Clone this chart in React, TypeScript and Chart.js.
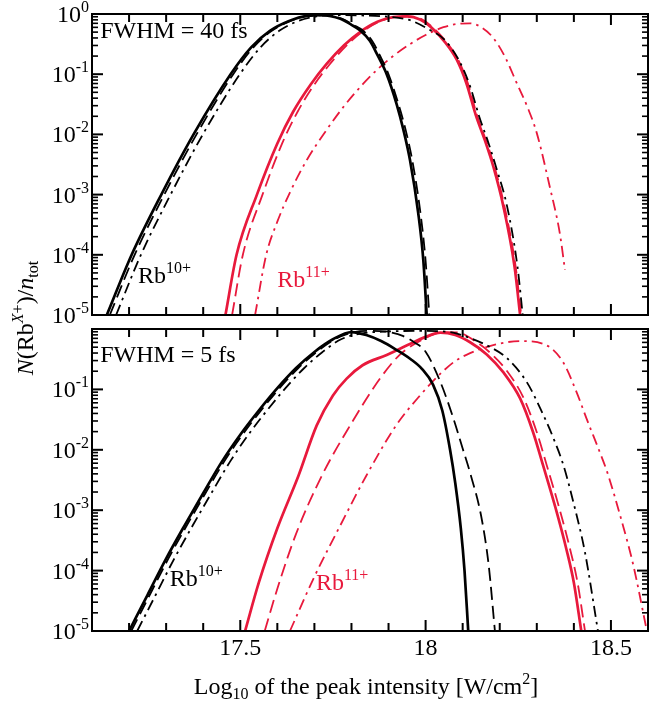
import React, { useEffect, useRef } from 'react';
import { Chart, registerables } from 'chart.js';
Chart.register(...registerables);

// ---------- axis settings ----------
const X_MIN = 17.1;
const X_MAX = 18.6;
const Y_MIN = 1e-5;
const Y_MAX = 1;
const X_TICK_LABELS = [17.5, 18, 18.5];
const X_TICK_STEPS = [17.1, 17.2, 17.3, 17.4, 17.5, 17.6, 17.7, 17.8, 17.9, 18.0, 18.1, 18.2, 18.3, 18.4, 18.5, 18.6];
const Y_DECADES = [1e-5, 1e-4, 1e-3, 1e-2, 1e-1, 1];
const TOP_Y_EXPONENTS = [0, -1, -2, -3, -4, -5];
const BOTTOM_Y_EXPONENTS = [-1, -2, -3, -4, -5];

// ---------- top panel: FWHM = 40 fs ----------
const t40BlackSolidX = [17.14, 17.207, 17.287, 17.374, 17.474, 17.53, 17.58, 17.63, 17.68, 17.72, 17.77, 17.80, 17.823, 17.85, 17.87, 17.895, 17.922, 17.94, 17.958, 17.98, 17.994, 18.003];
const t40BlackSolidY = [1e-5, 1e-4, 1e-3, 1e-2, 0.1, 0.282, 0.525, 0.759, 0.933, 0.955, 0.832, 0.661, 0.537, 0.355, 0.209, 0.1, 0.0316, 0.012, 0.00372, 0.0005, 7.94e-5, 1e-5];

const t40BlackDashX = [17.148, 17.215, 17.295, 17.382, 17.481, 17.536, 17.585, 17.634, 17.684, 17.725, 17.775, 17.805, 17.83, 17.856, 17.876, 17.90, 17.927, 17.946, 17.964, 17.986, 18.0, 18.01];
const t40BlackDashY = [1e-5, 1e-4, 1e-3, 1e-2, 0.1, 0.282, 0.525, 0.759, 0.933, 0.95, 0.832, 0.661, 0.537, 0.355, 0.209, 0.1, 0.0316, 0.012, 0.00372, 0.0005, 7.94e-5, 1e-5];

const t40BlackDashDotX = [17.165, 17.232, 17.312, 17.399, 17.499, 17.555, 17.605, 17.655, 17.705, 17.76, 17.82, 17.90, 17.96, 18.01, 18.05, 18.09, 18.12, 18.145, 18.17, 18.19, 18.22, 18.248, 18.262];
const t40BlackDashDotY = [1e-5, 1e-4, 1e-3, 1e-2, 0.1, 0.282, 0.525, 0.759, 0.91, 0.96, 0.95, 0.9, 0.78, 0.55, 0.38, 0.17, 0.063, 0.0195, 0.00708, 0.00288, 6.31e-4, 6.31e-5, 1e-5];

const t40RedSolidX = [17.46, 17.49, 17.545, 17.60, 17.643, 17.69, 17.733, 17.78, 17.823, 17.87, 17.913, 17.95, 17.985, 18.013, 18.05, 18.084, 18.11, 18.137, 18.16, 18.183, 18.21, 18.24, 18.255];
const t40RedSolidY = [1e-5, 1e-4, 1e-3, 0.00708, 0.024, 0.0676, 0.148, 0.302, 0.501, 0.741, 0.891, 0.912, 0.813, 0.617, 0.355, 0.174, 0.0708, 0.0195, 0.00794, 0.00288, 6.31e-4, 6.31e-5, 1e-5];

const t40RedDashX = [17.478, 17.507, 17.56, 17.613, 17.655, 17.70, 17.742, 17.787, 17.828, 17.874, 17.917, 17.955, 17.99, 18.017, 18.054, 18.088, 18.114, 18.14, 18.163, 18.186, 18.213, 18.243, 18.258];
const t40RedDashY = [1e-5, 1e-4, 1e-3, 0.00708, 0.024, 0.0676, 0.148, 0.302, 0.501, 0.741, 0.891, 0.912, 0.813, 0.617, 0.355, 0.174, 0.0708, 0.0195, 0.00794, 0.00288, 6.31e-4, 6.31e-5, 1e-5];

const t40RedDashDotX = [17.54, 17.57, 17.60, 17.635, 17.68, 17.73, 17.78, 17.83, 17.87, 17.91, 17.958, 18.0, 18.048, 18.093, 18.12, 18.15, 18.183, 18.215, 18.246, 18.275, 18.30, 18.335, 18.362, 18.376];
const t40RedDashDotY = [1e-5, 1e-4, 3.55e-4, 1.12e-3, 3.8e-3, 0.0112, 0.0295, 0.0676, 0.12, 0.195, 0.316, 0.447, 0.603, 0.692, 0.70, 0.603, 0.398, 0.19, 0.0708, 0.0282, 0.0105, 0.00135, 2.29e-4, 5.62e-5];

// ---------- bottom panel: FWHM = 5 fs ----------
const b5BlackSolidX = [17.20, 17.25, 17.30, 17.35, 17.40, 17.45, 17.50, 17.55, 17.60, 17.65, 17.70, 17.75, 17.80, 17.84, 17.88, 17.92, 17.96, 17.99, 18.02, 18.045, 18.066, 18.08, 18.095, 18.105, 18.115];
const b5BlackSolidY = [1e-5, 3.98e-5, 1.58e-4, 5.62e-4, 1.91e-3, 6.31e-3, 0.0178, 0.0447, 0.105, 0.224, 0.417, 0.676, 0.891, 0.794, 0.631, 0.457, 0.316, 0.219, 0.12, 0.0447, 0.01, 0.00282, 5.01e-4, 1e-4, 1e-5];

const b5BlackDashX = [17.206, 17.256, 17.306, 17.356, 17.406, 17.456, 17.506, 17.556, 17.606, 17.656, 17.706, 17.755, 17.80, 17.85, 17.90, 17.94, 17.97, 18.0, 18.04, 18.075, 18.10, 18.12, 18.15, 18.17, 18.187];
const b5BlackDashY = [1e-5, 3.98e-5, 1.58e-4, 5.62e-4, 1.91e-3, 6.31e-3, 0.0178, 0.0447, 0.105, 0.224, 0.417, 0.676, 0.87, 0.93, 0.89, 0.76, 0.6, 0.42, 0.132, 0.0331, 0.0105, 0.00417, 7.94e-4, 1.26e-4, 1e-5];

const b5BlackDashDotX = [17.222, 17.272, 17.322, 17.372, 17.422, 17.472, 17.522, 17.572, 17.622, 17.672, 17.722, 17.772, 17.83, 17.90, 17.98, 18.03, 18.074, 18.12, 18.165, 18.219, 18.273, 18.309, 18.345, 18.372, 18.40, 18.43, 18.465];
const b5BlackDashDotY = [1e-5, 3.98e-5, 1.58e-4, 5.62e-4, 1.91e-3, 6.31e-3, 0.0178, 0.0447, 0.105, 0.224, 0.417, 0.676, 0.85, 0.91, 0.93, 0.92, 0.87, 0.708, 0.537, 0.331, 0.132, 0.049, 0.0155, 0.0055, 0.00126, 2e-4, 1e-5];

const b5RedSolidX = [17.513, 17.55, 17.60, 17.657, 17.706, 17.75, 17.787, 17.83, 17.895, 17.95, 18.0, 18.04, 18.08, 18.12, 18.165, 18.21, 18.255, 18.29, 18.317, 18.35, 18.38, 18.40, 18.42];
const b5RedSolidY = [1e-5, 6.31e-5, 5.01e-4, 3.72e-3, 0.0251, 0.0794, 0.151, 0.251, 0.372, 0.537, 0.741, 0.871, 0.794, 0.603, 0.38, 0.191, 0.0708, 0.0195, 0.0055, 0.00112, 2.24e-4, 6.31e-5, 1e-5];

const b5RedDashX = [17.566, 17.60, 17.65, 17.72, 17.796, 17.877, 17.93, 18.0, 18.05, 18.09, 18.13, 18.175, 18.22, 18.265, 18.30, 18.327, 18.36, 18.39, 18.41, 18.43];
const b5RedDashY = [1e-5, 5.01e-5, 3.98e-4, 3.72e-3, 0.0251, 0.151, 0.372, 0.708, 0.891, 0.87, 0.65, 0.4, 0.2, 0.0708, 0.0195, 0.0055, 0.00112, 2.24e-4, 6.31e-5, 1e-5];

const b5RedDashDotX = [17.634, 17.70, 17.77, 17.84, 17.92, 17.985, 18.04, 18.08, 18.12, 18.18, 18.255, 18.326, 18.37, 18.407, 18.434, 18.47, 18.49, 18.53, 18.56, 18.597];
const b5RedDashDotY = [1e-5, 7.94e-5, 5.62e-4, 3.72e-3, 0.0251, 0.0794, 0.182, 0.295, 0.398, 0.537, 0.631, 0.537, 0.288, 0.0912, 0.0331, 0.00912, 0.00427, 6.31e-4, 1.26e-4, 1e-5];

// ---------- styling ----------
const BLACK = '#000000';
const RED = '#e8193c';
const FONT = '"Liberation Serif", "Times New Roman", Times, serif';
const W = 671;
const H = 705;

type Style = 'solid' | 'dash' | 'dashdot';
function dashFor(s: Style): number[] {
  if (s === 'dash') return [13, 6];
  if (s === 'dashdot') return [11, 5, 2.5, 5];
  return [];
}

function ds(xs: number[], ys: number[], color: string, style: Style) {
  return {
    data: xs.map((x, i) => ({ x, y: ys[i] })),
    borderColor: color,
    borderWidth: style === 'solid' ? 2.7 : 1.8,
    borderDash: dashFor(style),
    pointRadius: 0,
    fill: false,
    cubicInterpolationMode: 'monotone' as const,
  };
}

type Part = { t: string; size: number; italic?: boolean; dy?: number };

function partFont(p: Part) {
  return `${p.italic ? 'italic ' : ''}${p.size}px ${FONT}`;
}
function partsWidth(ctx: CanvasRenderingContext2D, parts: Part[]) {
  let w = 0;
  for (const p of parts) {
    ctx.font = partFont(p);
    w += ctx.measureText(p.t).width;
  }
  return w;
}
function drawParts(ctx: CanvasRenderingContext2D, parts: Part[], x: number, y: number, align: 'left' | 'center' | 'right', color: string) {
  const w = partsWidth(ctx, parts);
  let cx = align === 'left' ? x : align === 'center' ? x - w / 2 : x - w;
  ctx.fillStyle = color;
  ctx.textAlign = 'left';
  ctx.textBaseline = 'alphabetic';
  for (const p of parts) {
    ctx.font = partFont(p);
    ctx.fillText(p.t, cx, y + (p.dy || 0));
    cx += ctx.measureText(p.t).width;
  }
}

// inward tick marks on all four sides, placed through the chart's scales
const tickPlugin = {
  id: 'inwardTicks',
  afterDraw(chart: any) {
    const ctx: CanvasRenderingContext2D = chart.ctx;
    const a = chart.chartArea;
    const xs = chart.scales.x;
    const ys = chart.scales.y;
    ctx.save();
    ctx.fillStyle = '#000';
    X_TICK_STEPS.forEach((v) => {
      const px = xs.getPixelForValue(v);
      const len = X_TICK_LABELS.some((t) => Math.abs(t - v) < 1e-6) ? 11 : 8;
      ctx.fillRect(px - 1, a.bottom - len, 2, len);
      ctx.fillRect(px - 1, a.top, 2, len);
    });
    Y_DECADES.forEach((d, k) => {
      const py = ys.getPixelForValue(d);
      ctx.fillRect(a.left, py - 1, 11, 2);
      ctx.fillRect(a.right - 11, py - 1, 11, 2);
      if (k < 5) {
        for (let m = 2; m <= 9; m++) {
          const pm = ys.getPixelForValue(m * d);
          ctx.fillRect(a.left, pm - 0.8, 6, 1.6);
          ctx.fillRect(a.right - 6, pm - 0.8, 6, 1.6);
        }
      }
    });
    ctx.restore();
  },
};

type Annot = { parts: Part[]; x: number; y: number; color: string };

function makePlugin(yExps: number[], annots: Annot[], extra?: (ctx: CanvasRenderingContext2D) => void) {
  return {
    id: 'panelDecor',
    afterDraw(chart: any) {
      const ctx: CanvasRenderingContext2D = chart.ctx;
      const a = chart.chartArea;
      const xs = chart.scales.x;
      const ys = chart.scales.y;
      ctx.save();
      ctx.setLineDash([]);
      ctx.strokeStyle = '#000';
      ctx.lineWidth = 2;
      ctx.strokeRect(a.left, a.top, a.right - a.left, a.bottom - a.top);

      for (const e of yExps) {
        const py = ys.getPixelForValue(Y_DECADES[5 + e]);
        drawParts(ctx, [
          { t: '10', size: 24 },
          { t: e === 0 ? '0' : '-' + Math.abs(e), size: 16, dy: -10 },
        ], a.left - 3, py + 8, 'right', '#000');
      }
      for (const an of annots) {
        drawParts(ctx, an.parts, xs.getPixelForValue(an.x), ys.getPixelForValue(an.y), 'left', an.color);
      }
      if (extra) extra(ctx);
      ctx.restore();
    },
  };
}

function baseOptions(padding: any, showX: boolean) {
  return {
    responsive: false,
    animation: false as const,
    devicePixelRatio: 1,
    layout: { padding },
    plugins: { legend: { display: false }, tooltip: { enabled: false } },
    scales: {
      x: {
        type: 'linear' as const,
        min: X_MIN,
        max: X_MAX,
        display: showX,
        grid: { display: false, drawTicks: false },
        border: { display: false },
        ticks: {
          stepSize: 0.1,
          autoSkip: false,
          maxRotation: 0,
          minRotation: 0,
          padding: 3,
          color: '#000',
          font: { family: FONT, size: 24 },
          callback: (v: any) => {
            const n = Number(v);
            const hit = X_TICK_LABELS.find((t) => Math.abs(t - n) < 1e-6);
            return hit === undefined ? '' : String(hit);
          },
        },
        afterFit: (s: any) => {
          s.height = showX ? 74 : 0;
        },
      },
      y: {
        type: 'logarithmic' as const,
        min: Y_MIN,
        max: Y_MAX,
        display: false,
      },
    },
  };
}

export default function App() {
  const topRef = useRef<HTMLCanvasElement>(null);
  const botRef = useRef<HTMLCanvasElement>(null);

  useEffect(() => {
    const rb = (sup: string): Part[] => [
      { t: 'Rb', size: 24 },
      { t: sup, size: 16, dy: -10 },
    ];

    const yTitle = (ctx: CanvasRenderingContext2D) => {
      ctx.save();
      ctx.translate(25, 318);
      ctx.rotate(-Math.PI / 2);
      drawParts(ctx, [
        { t: 'N', size: 24, italic: true },
        { t: '(Rb', size: 24 },
        { t: 'X', size: 16, italic: true, dy: -10 },
        { t: '+', size: 16, dy: -10 },
        { t: ')/', size: 24 },
        { t: 'n', size: 24, italic: true },
        { t: 'tot', size: 16, dy: 5 },
      ], 0, 8, 'center', '#000');
      ctx.restore();
    };

    const xTitle = (ctx: CanvasRenderingContext2D) => {
      drawParts(ctx, [
        { t: 'Log', size: 24 },
        { t: '10', size: 16, dy: 5 },
        { t: ' of the peak intensity [W/cm', size: 24 },
        { t: '2', size: 16, dy: -10 },
        { t: ']', size: 24 },
      ], 366, 694, 'center', '#000');
    };

    const topChart = new Chart(topRef.current as HTMLCanvasElement, {
      type: 'line',
      data: {
        datasets: [
          ds(t40BlackSolidX, t40BlackSolidY, BLACK, 'solid'),
          ds(t40BlackDashX, t40BlackDashY, BLACK, 'dash'),
          ds(t40BlackDashDotX, t40BlackDashDotY, BLACK, 'dashdot'),
          ds(t40RedSolidX, t40RedSolidY, RED, 'solid'),
          ds(t40RedDashX, t40RedDashY, RED, 'dash'),
          ds(t40RedDashDotX, t40RedDashDotY, RED, 'dashdot'),
        ] as any,
      },
      options: baseOptions({ left: 92, right: 23, top: 14, bottom: H - 315 }, false) as any,
      plugins: [
        makePlugin(TOP_Y_EXPONENTS, [
          { parts: [{ t: 'FWHM = 40 fs', size: 24 }], x: 17.122, y: 0.4, color: '#000' },
          { parts: rb('10+'), x: 17.224, y: 3.4e-5, color: BLACK },
          { parts: rb('11+'), x: 17.6, y: 2.9e-5, color: RED },
        ], yTitle),
        tickPlugin,
      ],
    });

    const botChart = new Chart(botRef.current as HTMLCanvasElement, {
      type: 'line',
      data: {
        datasets: [
          ds(b5BlackSolidX, b5BlackSolidY, BLACK, 'solid'),
          ds(b5BlackDashX, b5BlackDashY, BLACK, 'dash'),
          ds(b5BlackDashDotX, b5BlackDashDotY, BLACK, 'dashdot'),
          ds(b5RedSolidX, b5RedSolidY, RED, 'solid'),
          ds(b5RedDashX, b5RedDashY, RED, 'dash'),
          ds(b5RedDashDotX, b5RedDashDotY, RED, 'dashdot'),
        ] as any,
      },
      options: baseOptions({ left: 92, right: 23, top: 329, bottom: 0 }, true) as any,
      plugins: [
        makePlugin(BOTTOM_Y_EXPONENTS, [
          { parts: [{ t: 'FWHM = 5 fs', size: 24 }], x: 17.122, y: 0.28, color: '#000' },
          { parts: rb('10+'), x: 17.31, y: 5.6e-5, color: BLACK },
          { parts: rb('11+'), x: 17.704, y: 4.8e-5, color: RED },
        ], xTitle),
        tickPlugin,
      ],
    });

    return () => {
      topChart.destroy();
      botChart.destroy();
    };
  }, []);

  const cs: React.CSSProperties = { position: 'absolute', left: 0, top: 0, width: W, height: H };
  return (
    <div style={{ position: 'absolute', left: 0, top: 0, width: W, height: H, background: '#fff' }}>
      <canvas ref={topRef} width={W} height={H} style={cs} />
      <canvas ref={botRef} width={W} height={H} style={cs} />
    </div>
  );
}
